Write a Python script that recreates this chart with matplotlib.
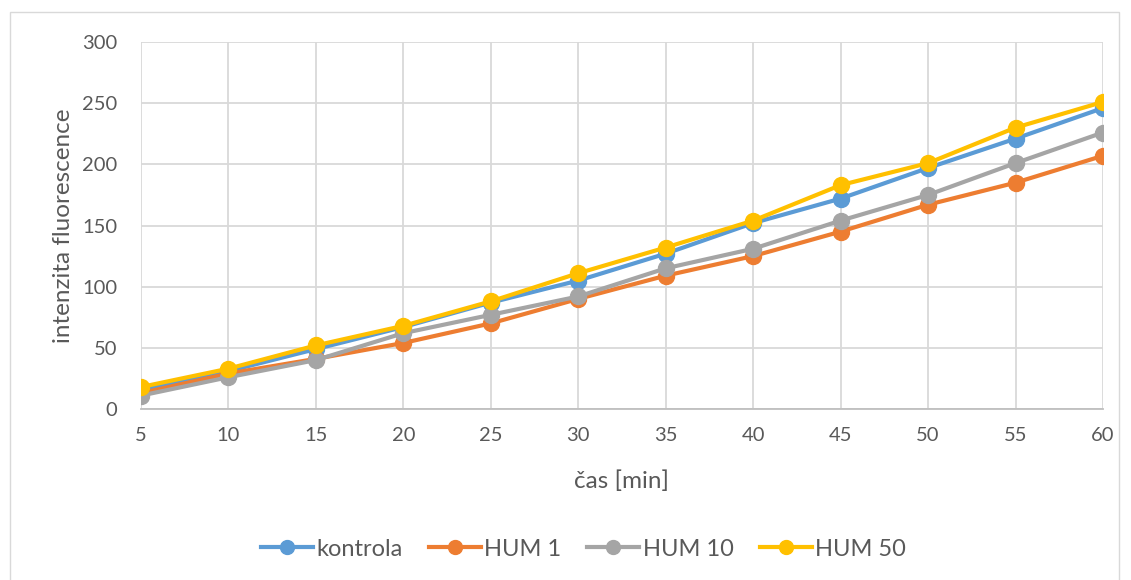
import matplotlib.pyplot as plt
from matplotlib.patches import Rectangle
from matplotlib.lines import Line2D

cas = [5, 10, 15, 20, 25, 30, 35, 40, 45, 50, 55, 60]
kontrola = [16, 31, 49, 67, 87, 105, 127, 152, 172, 197, 221, 246]
hum1 = [13, 29, 41, 54, 70, 90, 109, 125, 145, 167, 185, 207]
hum10 = [11, 26, 40, 62, 77, 92, 115, 131, 154, 175, 201, 226]
hum50 = [18, 33, 52, 68, 88, 111, 132, 154, 183, 201, 230, 251]

series = [
    ("kontrola", kontrola, "#5B9BD5"),
    ("HUM 1", hum1, "#ED7D31"),
    ("HUM 10", hum10, "#A5A5A5"),
    ("HUM 50", hum50, "#FFC000"),
]

plt.rcParams['font.family'] = ['Lato', 'DejaVu Sans']
txt = "#595959"
fs_tick = 14.5
fs_label = 17.5
fs_legend = 17

fig = plt.figure(figsize=(11.31, 5.8), dpi=100)
fig.patches.append(Rectangle((0.009, -0.01), 0.98, 0.99, transform=fig.transFigure,
                             fill=False, edgecolor="#D9D9D9", lw=1))
ax = fig.add_axes([0.1247, 0.2948, 0.8505, 0.6328])

for name, vals, col in series:
    ax.plot(cas, vals, color=col, lw=3, marker='o', ms=11.5, label=name,
            solid_capstyle='round', zorder=3)

ax.set_xlim(5, 60)
ax.set_ylim(0, 300)
ax.set_xticks(cas)
ax.set_yticks(range(0, 301, 50))
ax.grid(True, color="#D9D9D9", lw=1.3)
ax.set_axisbelow(True)
for s in ['top', 'right', 'left']:
    ax.spines[s].set_visible(False)
ax.spines['bottom'].set_color("#BFBFBF")
ax.spines['bottom'].set_linewidth(1.3)
ax.tick_params(length=0, labelsize=fs_tick, colors=txt)
ax.tick_params(axis='y', pad=17)
ax.tick_params(axis='x', pad=13)
ax.set_xlabel("čas [min]", fontsize=fs_label, color=txt, labelpad=19)
ax.set_ylabel("intenzita fluorescence", fontsize=fs_label, color=txt, labelpad=6)

handles = [Line2D([0], [0], color=c, lw=3, marker='o', ms=10) for _, _, c in series]
fig.legend(handles, [n for n, _, _ in series], loc='center', bbox_to_anchor=(0.516, 0.053),
           ncol=4, frameon=False, fontsize=fs_legend, labelcolor=txt, handlelength=2.2,
           columnspacing=1.1, handletextpad=0.15)

fig.savefig("out.png", dpi=100)
